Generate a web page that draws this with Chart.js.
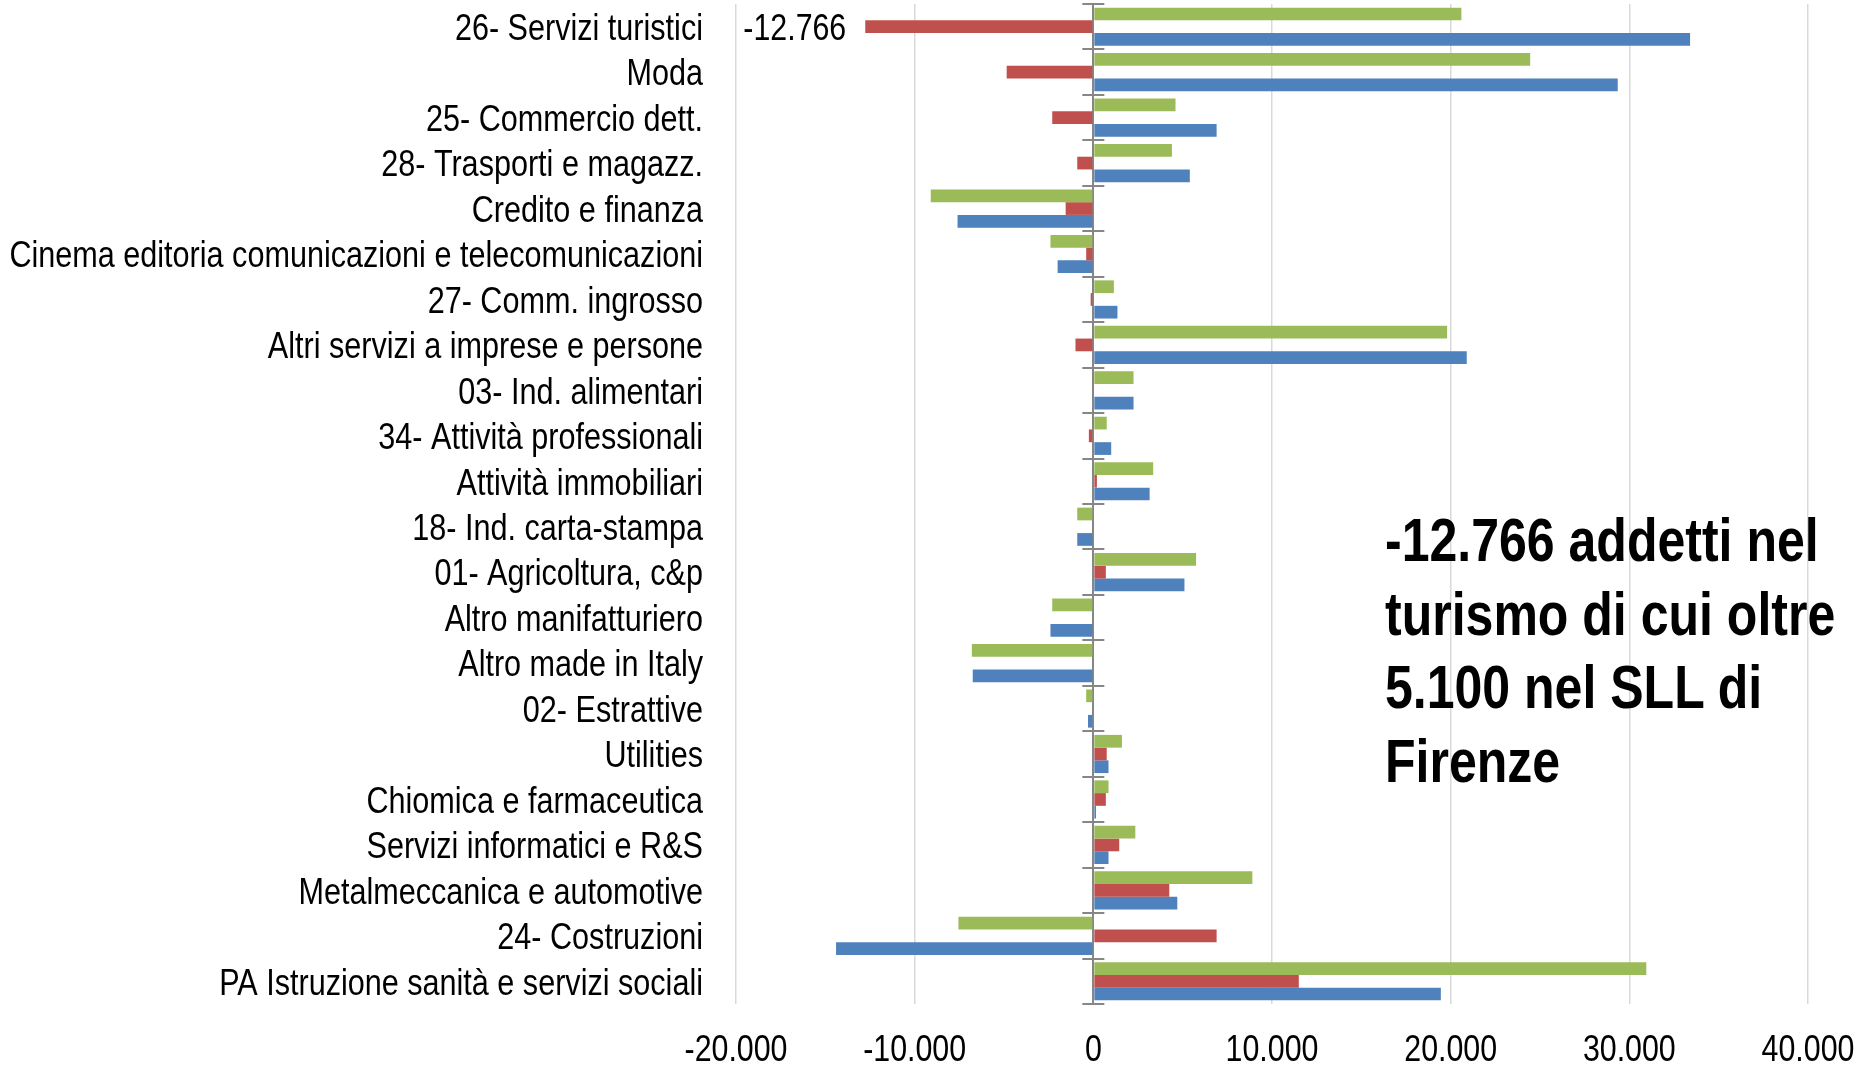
<!DOCTYPE html>
<html>
<head>
<meta charset="utf-8">
<script src="https://cdn.jsdelivr.net/npm/chart.js@4.4.1/dist/chart.umd.min.js"></script>
<style>
  html, body { margin: 0; padding: 0; background: #fff; }
  #box { position: relative; width: 1868px; height: 1066px; overflow: hidden; }
  #nota {
    position: absolute;
    left: 1385px;
    top: 504px;
    font-family: "Liberation Sans", Arial, sans-serif;
    font-weight: bold;
    font-size: 61px;
    line-height: 73.5px;
    color: #000;
    white-space: nowrap;
    transform: scaleX(0.82);
    transform-origin: 0 0;
  }
</style>
</head>
<body>
<div id="box">
  <canvas id="grafico" width="1868" height="1066"></canvas>
  <div id="nota">-12.766 addetti nel<br>turismo di cui oltre<br>5.100 nel SLL di<br>Firenze</div>
</div>
<script>
// settori (dall'alto verso il basso)
const settori = [
  "26- Servizi turistici",
  "Moda",
  "25- Commercio dett.",
  "28- Trasporti e magazz.",
  "Credito e finanza",
  "Cinema editoria comunicazioni e telecomunicazioni",
  "27- Comm. ingrosso",
  "Altri servizi a imprese e persone",
  "03- Ind. alimentari",
  "34- Attività professionali",
  "Attività immobiliari",
  "18- Ind. carta-stampa",
  "01- Agricoltura, c&p",
  "Altro manifatturiero",
  "Altro made in Italy",
  "02- Estrattive",
  "Utilities",
  "Chiomica e farmaceutica",
  "Servizi informatici e R&S",
  "Metalmeccanica e automotive",
  "24- Costruzioni",
  "PA Istruzione sanità e servizi sociali",
];

// serie verde (barra in alto)
const serieVerde = [20600, 24450, 4600, 4400, -9100, -2400, 1150, 19800, 2250, 750, 3350,
  -900, 5750, -2300, -6800, -400, 1600, 850, 2350, 8900, -7550, 30950];

// serie rossa (barra centrale)
const serieRossa = [-12766, -4850, -2300, -900, -1550, -400, -150, -1000, 0, -250, 200,
  0, 700, 0, 0, 0, 750, 700, 1450, 4250, 6900, 11500];

// serie blu (barra in basso)
const serieBlu = [33400, 29350, 6900, 5400, -7600, -2000, 1350, 20900, 2250, 1000, 3150,
  -900, 5100, -2400, -6750, -300, 850, 150, 850, 4700, -14400, 19450];

// etichetta dato mostrata sul grafico (solo turismo, serie rossa)
const etichettaIndice = 0;

const assiX = { min: -20000, max: 40000, passo: 10000 };

// testo "narrow": Liberation Sans compresso in orizzontale
const FONT = "37px 'Liberation Sans', Arial, sans-serif";
const FONT_CAT = "37.3px 'Liberation Sans', Arial, sans-serif";
const STRETTO = 0.82;

function formatta(n) {
  const s = Math.abs(n).toString().replace(/\B(?=(\d{3})+(?!\d))/g, ".");
  return (n < 0 ? "-" : "") + s;
}

function testoStretto(ctx, testo, x, y, align) {
  ctx.save();
  ctx.translate(x, y);
  ctx.scale(STRETTO, 1);
  ctx.textAlign = align;
  ctx.textBaseline = "middle";
  ctx.fillText(testo, 0, 0);
  ctx.restore();
}

const tacchePlugin = {
  id: "tacche",
  // tacche a croce sull'asse dello zero, tra una categoria e l'altra
  beforeDatasetsDraw(chart) {
    const ctx = chart.ctx;
    const x0 = chart.scales.x.getPixelForValue(0);
    const y = chart.scales.y;
    ctx.save();
    ctx.strokeStyle = "#868686";
    ctx.lineWidth = 2;
    for (let i = 0; i <= settori.length; i++) {
      const yy = Math.round(y.getPixelForValue(i - 0.5));
      ctx.beginPath();
      ctx.moveTo(x0 - 11, yy);
      ctx.lineTo(x0 + 11, yy);
      ctx.stroke();
    }
    ctx.restore();
  },
  afterDatasetsDraw(chart) {
    const ctx = chart.ctx;
    const area = chart.chartArea;
    ctx.save();
    ctx.fillStyle = "#000";

    // etichette delle categorie
    ctx.font = FONT_CAT;
    const y = chart.scales.y;
    settori.forEach((s, i) => {
      testoStretto(ctx, s, area.left - 33, y.getPixelForTick(i) + 3, "right");
    });

    // etichette asse x
    ctx.font = FONT;
    const x = chart.scales.x;
    x.ticks.forEach((t) => {
      testoStretto(ctx, formatta(t.value), x.getPixelForValue(t.value), area.bottom + 47, "center");
    });

    // valore sulla barra rossa del turismo
    const bar = chart.getDatasetMeta(1).data[etichettaIndice];
    testoStretto(ctx, formatta(serieRossa[etichettaIndice]), bar.x - 19, bar.y + 3, "right");
    ctx.restore();
  },
};

const grafico = new Chart(document.getElementById("grafico"), {
  type: "bar",
  data: {
    labels: settori,
    datasets: [
      {
        label: "Verde",
        data: serieVerde,
        backgroundColor: "#9BBB59",
      },
      {
        label: "Rosso",
        data: serieRossa,
        backgroundColor: "#C0504D",
      },
      {
        label: "Blu",
        data: serieBlu,
        backgroundColor: "#4F81BD",
      },
    ],
  },
  options: {
    indexAxis: "y",
    responsive: false,
    animation: false,
    layout: {
      padding: { top: 4, right: 60, left: 0, bottom: 0 },
    },
    datasets: {
      bar: {
        categoryPercentage: 0.84,
        barPercentage: 1.0,
      },
    },
    plugins: {
      legend: { display: false },
      tooltip: { enabled: false },
    },
    scales: {
      x: {
        min: assiX.min,
        max: assiX.max,
        afterFit: (scale) => {
          scale.height = 62;
          scale.paddingLeft = 0;
          scale.paddingRight = 0;
        },
        ticks: {
          stepSize: assiX.passo,
          display: false,
        },
        grid: {
          drawTicks: false,
          color: (c) => (c.tick && c.tick.value === 0 ? "#868686" : "#D9D9D9"),
          lineWidth: (c) => (c.tick && c.tick.value === 0 ? 2 : 1.5),
        },
        border: { display: false },
      },
      y: {
        afterFit: (scale) => {
          scale.width = 736;
          scale.paddingTop = 0;
          scale.paddingBottom = 0;
        },
        ticks: {
          display: false,
          autoSkip: false,
        },
        grid: { display: false },
        border: { display: false },
      },
    },
  },
  plugins: [tacchePlugin],
});
</script>
</body>
</html>
